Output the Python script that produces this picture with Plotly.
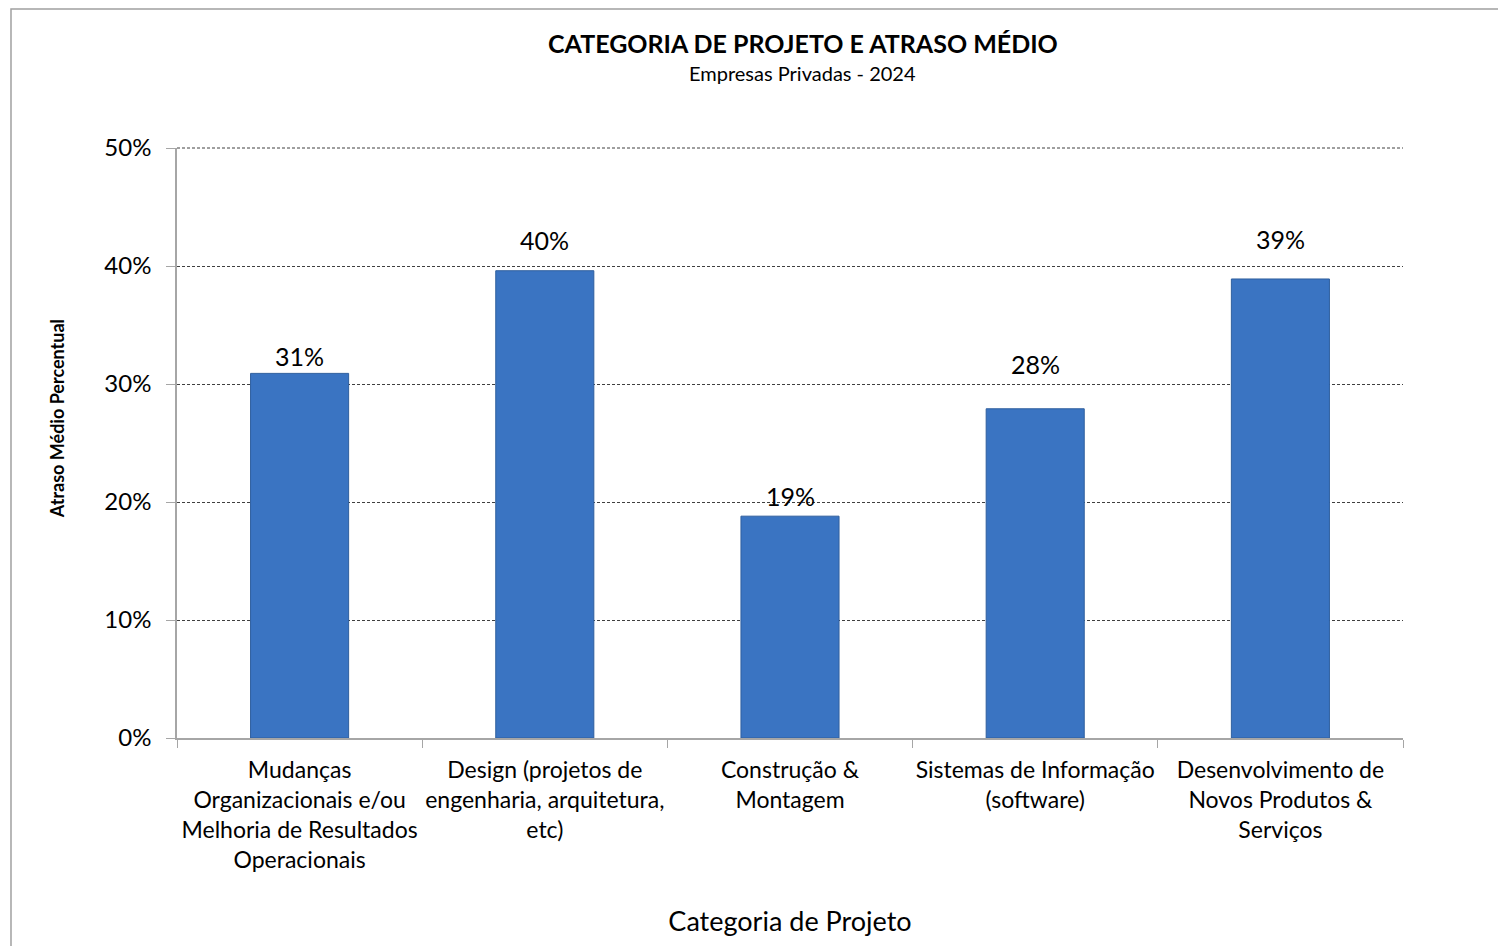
import plotly.graph_objects as go

categories = [
    "Mudanças<br>Organizacionais e/ou<br>Melhoria de Resultados<br>Operacionais",
    "Design (projetos de<br>engenharia, arquitetura,<br>etc)",
    "Construção &<br>Montagem",
    "Sistemas de Informação<br>(software)",
    "Desenvolvimento de<br>Novos Produtos &<br>Serviços",
]
values = [0.309, 0.396, 0.188, 0.279, 0.389]
labels = ["31%", "40%", "19%", "28%", "39%"]
label_shift = [0, 14, 3, 28, 23]

FONT = "Lato"
GRID = dict(color="#404040", width=1, dash="3px,2px")

fig = go.Figure()
fig.add_trace(go.Bar(
    x=categories, y=values,
    width=0.4,
    marker=dict(color="#3a74c2", line=dict(color="#2f5f9e", width=1)),
    hoverinfo="skip",
))

for c, v, t, s in zip(categories, values, labels, label_shift):
    fig.add_annotation(x=c, y=v, text=t, showarrow=False, yanchor="bottom",
                       yshift=s, font=dict(family=FONT, size=25, color="#000"))

fig.add_annotation(xref="paper", yref="paper", x=0.5106, y=1.178, yanchor="middle",
                   text="<b>CATEGORIA DE PROJETO E ATRASO MÉDIO</b>", showarrow=False,
                   font=dict(family=FONT, size=25, color="#000"))
fig.add_annotation(xref="paper", yref="paper", x=0.5106, y=1.127, yanchor="middle",
                   text="Empresas Privadas - 2024", showarrow=False,
                   font=dict(family=FONT, size=20, color="#000"))
fig.add_annotation(xref="paper", yref="paper", x=-0.1085, y=0.542, textangle=-90,
                   text="<b>Atraso Médio Percentual</b>", showarrow=False,
                   font=dict(family=FONT, size=18, color="#000"))

# top gridline at the axis maximum (plotly omits it at the plot edge)
fig.add_shape(type="line", xref="paper", yref="paper", x0=0, x1=1, y0=1, y1=1,
              line=GRID, layer="below")

# outer chart border
fig.add_shape(type="rect", xref="paper", yref="paper",
              x0=-0.1354, x1=1.2, y0=-0.5, y1=1.2356,
              line=dict(color="#a0a0a0", width=1.5), fillcolor="rgba(0,0,0,0)")

fig.update_layout(
    width=1506, height=946,
    margin=dict(l=169, r=111, t=140, b=216, autoexpand=False),
    paper_bgcolor="white", plot_bgcolor="white",
    showlegend=False,
    font=dict(family=FONT, color="#000"),
    xaxis=dict(
        title=dict(text="Categoria de Projeto", font=dict(family=FONT, size=27), standoff=40),
        tickfont=dict(family=FONT, size=23, color="#000"),
        tickangle=0, automargin=False,
        ticklabelstandoff=11,
        showline=True, linecolor="#a6a6a6", linewidth=1.5,
        ticks="outside", tickson="boundaries", ticklen=8, tickcolor="#a6a6a6",
        showgrid=False,
    ),
    yaxis=dict(
        range=[0, 0.5], dtick=0.1, tickformat=".0%",
        tickfont=dict(family=FONT, size=24, color="#000"),
        automargin=False,
        showline=True, linecolor="#a6a6a6", linewidth=1.5,
        ticks="outside", ticklen=9, tickcolor="#a6a6a6",
        ticklabelstandoff=10,
        showgrid=True, gridcolor=GRID["color"], griddash=GRID["dash"], gridwidth=1,
        zeroline=False,
    ),
)

fig.write_html("out.html")
